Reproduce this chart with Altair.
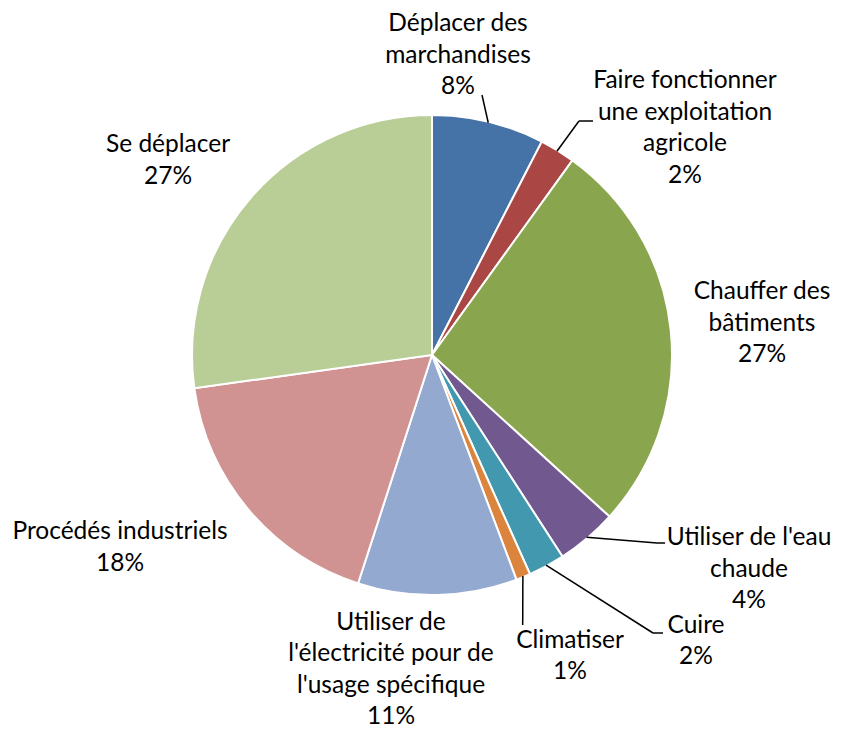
import math
import altair as alt
import pandas as pd

# ---- data ----
names = [
    "Déplacer des marchandises",
    "Faire fonctionner une exploitation agricole",
    "Chauffer des bâtiments",
    "Utiliser de l'eau chaude",
    "Cuire",
    "Climatiser",
    "Utiliser de l'électricité pour de l'usage spécifique",
    "Procédés industriels",
    "Se déplacer",
]
label_lines = [
    "Déplacer des\nmarchandises",
    "Faire fonctionner\nune exploitation\nagricole",
    "Chauffer des\nbâtiments",
    "Utiliser de l'eau\nchaude",
    "Cuire",
    "Climatiser",
    "Utiliser de\nl'électricité pour de\nl'usage spécifique",
    "Procédés industriels",
    "Se déplacer",
]
values = [7.56, 2.38, 26.8, 4.1, 2.45, 0.97, 10.7, 17.8, 27.2]
colors = ["#4572A7", "#AA4643", "#89A54E", "#71588F", "#4198AF",
          "#DB843D", "#93A9CF", "#D19392", "#B9CD96"]

# ---- layout (pixels inside the view) ----
W, H = 825, 720
CX, CY, R = 424, 347, 240
FONT = "Lato"
FS = 24.5
LH = 31.5
# centre of the first line of each label block (view coordinates)
label_pos = [
    (450, 16), (677, 73), (754, 284), (741, 530), (688, 617.5),
    (562, 632.5), (383, 614.5), (112, 524), (160, 137),
]
# leader line bends / ends (None = no leader line)
leader_pts = [
    [(474, 87)],
    [(571, 113), (585, 113)],
    None,
    [(649, 535), (657, 535)],
    [(645, 625), (655, 625)],
    [(514.7, 617)],
    None, None, None,
]

total = sum(values)
pct = [round(v / total * 100) for v in values]
texts = [f"{l}\n{p}%" for l, p in zip(label_lines, pct)]

pie_df = pd.DataFrame({"idx": list(range(len(names))), "name": names, "value": values})
lab_df = pd.DataFrame({
    "text": texts,
    "lx": [p[0] for p in label_pos],
    "ly": [p[1] for p in label_pos],
})

# leader segments from the slice mid-angle on the pie edge
segs = []
cum = 0.0
for i, v in enumerate(values):
    a0 = cum / total * 2 * math.pi
    cum += v
    a1 = cum / total * 2 * math.pi
    mid = (a0 + a1) / 2
    if leader_pts[i] is None:
        continue
    sx = CX + (R - 1) * math.sin(mid)
    sy = CY - (R - 1) * math.cos(mid)
    pts = [(sx, sy)] + leader_pts[i]
    for (x1, y1), (x2, y2) in zip(pts[:-1], pts[1:]):
        segs.append({"x": x1, "y": y1, "x2": x2, "y2": y2})
seg_df = pd.DataFrame(segs)

pie = alt.Chart(pie_df).mark_arc(outerRadius=R, stroke="white", strokeWidth=2).encode(
    theta=alt.Theta("value:Q", stack=True),
    order=alt.Order("idx:Q"),
    color=alt.Color("name:N", scale=alt.Scale(domain=names, range=colors), legend=None),
    x=alt.value(CX),
    y=alt.value(CY),
)

lines = alt.Chart(seg_df).mark_rule(color="black", strokeWidth=1.5).encode(
    x=alt.X("x:Q", scale=None, axis=None),
    y=alt.Y("y:Q", scale=None, axis=None),
    x2="x2:Q",
    y2="y2:Q",
)

labels = alt.Chart(lab_df).mark_text(
    font=FONT, fontSize=FS, lineHeight=LH, lineBreak="\n",
    align="center", baseline="middle", color="black",
).encode(
    x=alt.X("lx:Q", scale=None, axis=None),
    y=alt.Y("ly:Q", scale=None, axis=None),
    text="text:N",
)

chart = alt.layer(pie, lines, labels).properties(
    width=W, height=H, autosize=alt.AutoSizeParams(type="none"), padding=0,
).configure_view(stroke=None)

chart.save("out.html", embed_options={"renderer": "svg", "actions": False})
